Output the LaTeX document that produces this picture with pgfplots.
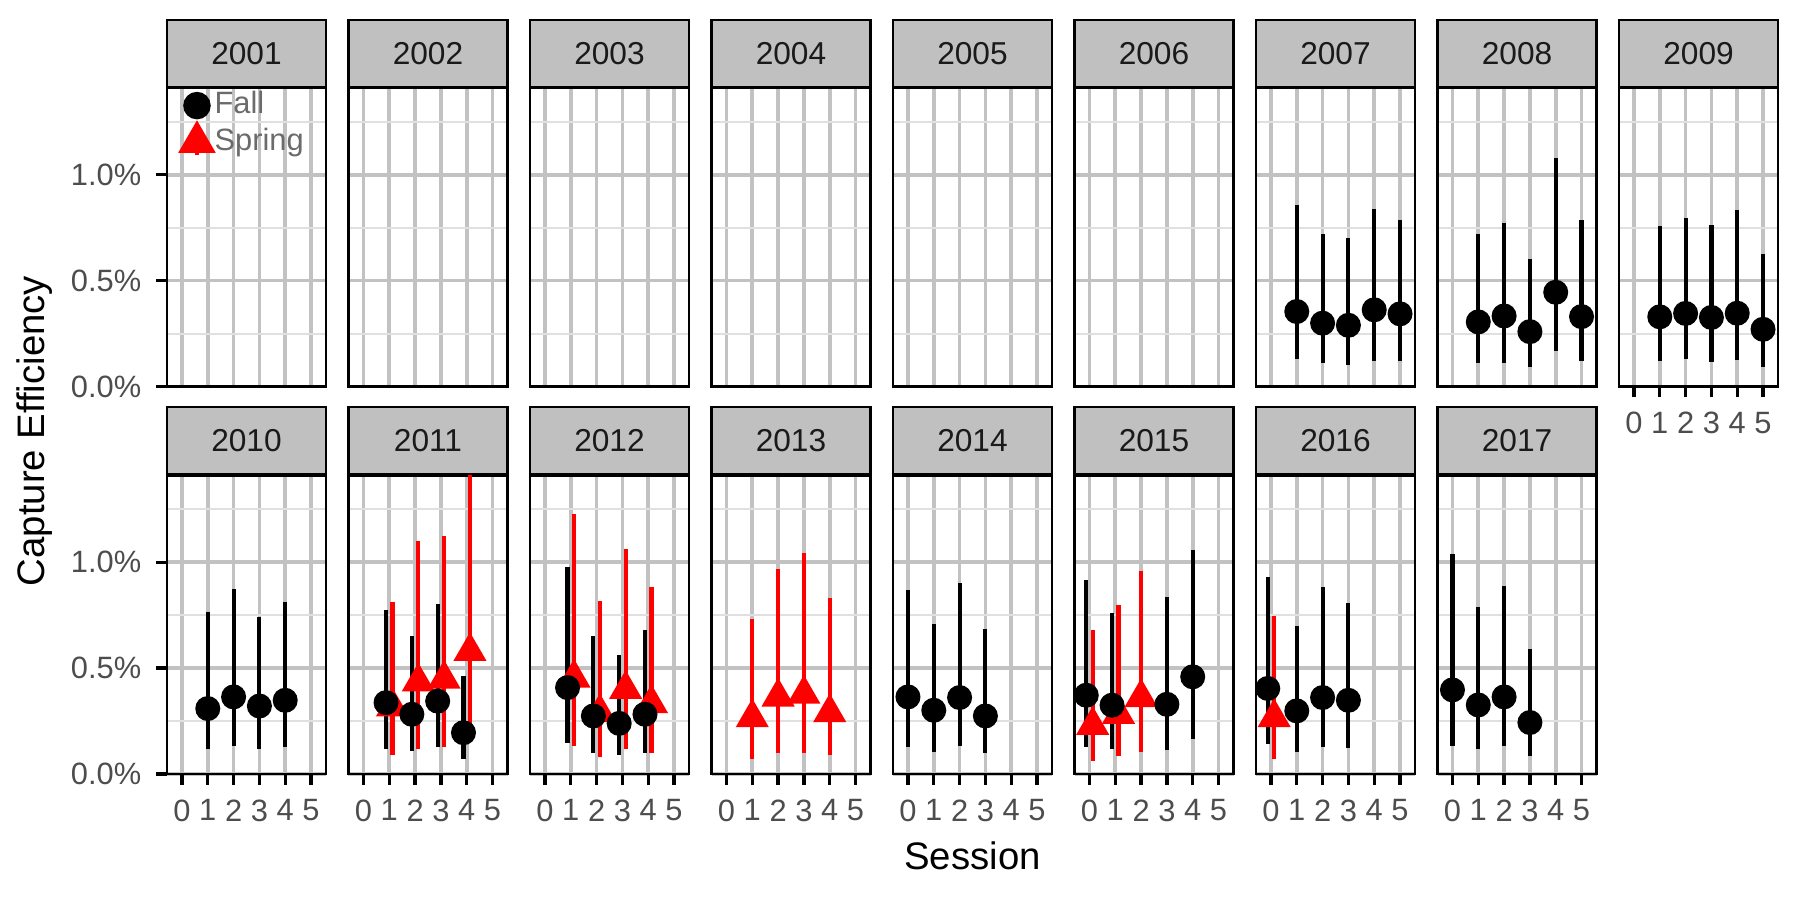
\documentclass[border=0pt]{standalone}
\usepackage{pgfplots}
\pgfplotsset{compat=1.18}
\usepackage{pgfplotstable}
\usepackage{fontspec}
\setmainfont{Liberation Sans}

\definecolor{stripfill}{HTML}{C0C0C0}
\definecolor{gridmaj}{HTML}{C2C2C2}
\definecolor{gridmin}{HTML}{E0E0E0}
\definecolor{ticklab}{HTML}{4D4D4D}
\definecolor{striptext}{HTML}{1A1A1A}
\definecolor{legtext}{HTML}{6B6B6B}
\definecolor{spring}{HTML}{FF0000}

\newcommand\ticksize{\fontsize{7.4}{8.5}\selectfont}

% capture efficiency in percent: session, estimate, lower, upper
\pgfplotstableread{
x y lo hi
1 0.354 0.130 0.856
2 0.299 0.110 0.719
3 0.289 0.100 0.699
4 0.362 0.120 0.837
5 0.343 0.120 0.784
}\fallSeven
\pgfplotstableread{
x y lo hi
1 0.305 0.110 0.718
2 0.333 0.110 0.770
3 0.259 0.090 0.603
4 0.445 0.167 1.078
5 0.330 0.120 0.786
}\fallEight
\pgfplotstableread{
x y lo hi
1 0.329 0.119 0.756
2 0.345 0.130 0.794
3 0.326 0.114 0.764
4 0.346 0.127 0.832
5 0.270 0.090 0.627
}\fallNine
\pgfplotstableread{
x y lo hi
1 0.309 0.116 0.764
2 0.364 0.132 0.874
3 0.321 0.119 0.740
4 0.348 0.127 0.811
}\fallTen
\pgfplotstableread{
x y lo hi
0.875 0.337 0.119 0.775
1.875 0.282 0.108 0.653
2.875 0.344 0.127 0.803
3.875 0.195 0.069 0.464
}\fallEleven
\pgfplotstableread{
x y lo hi
1.125 0.317 0.088 0.814
2.125 0.435 0.119 1.100
3.125 0.448 0.127 1.122
4.125 0.579 0.190 1.600
}\springEleven
\pgfplotstableread{
x y lo hi
0.875 0.408 0.148 0.977
1.875 0.274 0.097 0.653
2.875 0.239 0.088 0.563
3.875 0.282 0.100 0.680
}\fallTwelve
\pgfplotstableread{
x y lo hi
1.125 0.453 0.132 1.230
2.125 0.290 0.080 0.818
3.125 0.400 0.116 1.063
4.125 0.333 0.100 0.882
}\springTwelve
\pgfplotstableread{
x y lo hi
1 0.266 0.072 0.732
2 0.364 0.100 0.969
3 0.377 0.100 1.044
4 0.290 0.088 0.830
}\springThirteen
\pgfplotstableread{
x y lo hi
0 0.364 0.129 0.870
1 0.301 0.105 0.709
2 0.361 0.132 0.901
3 0.274 0.097 0.685
}\fallFourteen
\pgfplotstableread{
x y lo hi
-0.125 0.372 0.129 0.914
0.875 0.325 0.116 0.759
3 0.329 0.113 0.835
4 0.459 0.163 1.059
}\fallFifteen
\pgfplotstableread{
x y lo hi
0.125 0.230 0.061 0.682
1.125 0.282 0.084 0.799
2 0.361 0.103 0.961
}\springFifteen
\pgfplotstableread{
x y lo hi
-0.125 0.404 0.140 0.930
1 0.298 0.105 0.698
2 0.361 0.129 0.885
3 0.348 0.124 0.808
}\fallSixteen
\pgfplotstableread{
x y lo hi
0.125 0.266 0.072 0.748
}\springSixteen
\pgfplotstableread{
x y lo hi
0 0.397 0.132 1.040
1 0.326 0.116 0.791
2 0.364 0.132 0.887
3 0.243 0.084 0.590
}\fallSeventeen

\pgfplotsset{
  facet/.style={
    scale only axis, width=38.16pt, height=71.64pt, anchor=south west,
    xmin=-0.58, xmax=5.58, ymin=0, ymax=1.41,
    xtick={0,1,2,3,4,5}, ytick={0,0.5,1}, minor ytick={0.25,0.75,1.25},
    xticklabels={}, yticklabels={},
    grid=both,
    major grid style={line width=0.9pt, draw=gridmaj},
    minor grid style={line width=0.5pt, draw=gridmin},
    axis line style={line width=0.5pt, black},
    tick align=outside, major tick length=2.64pt, minor tick length=0pt,
    xtick style={draw=none}, ytick style={draw=none},
    ticklabel style={font=\ticksize, text=ticklab},
    title=#1, every axis title shift=0pt,
    title style={at={(0.5,1)}, anchor=south, fill=stripfill, draw=black,
      line width=0.5pt, minimum width=38.16pt, minimum height=16.08pt,
      inner sep=0pt, font=\fontsize{7.6}{9}\selectfont, text=striptext},
  },
  ylab/.style={yticklabels={0.0\%,0.5\%,1.0\%}, ytick pos=left,
    ytick style={draw=black, line width=0.8pt}},
  xlab/.style={xticklabels={0,1,2,3,4,5}, xtick pos=bottom,
    xtick style={draw=black, line width=0.8pt}},
  fallp/.style={black, mark=*, mark size=2.8pt, only marks,
    error bars/.cd, y dir=both, y explicit, error mark=none,
    error bar style={draw=black, line width=1pt}},
  springp/.style={spring, mark=triangle*, mark size=4.2pt, only marks,
    error bars/.cd, y dir=both, y explicit, error mark=none,
    error bar style={draw=spring, line width=1pt}},
  fallleg/.style={black, fill=black, mark=*, mark size=2.8pt, line width=1pt},
  springleg/.style={spring, fill=spring, mark=triangle*, mark size=4.2pt, line width=1pt},
}

\newcommand\ci[2]{\addplot[#1] table[x=x, y=y,
  y error plus expr=\thisrow{hi}-\thisrow{y},
  y error minus expr=\thisrow{y}-\thisrow{lo}] {#2};}

\begin{document}
\begin{tikzpicture}
\path (0,0) rectangle (431.76pt,215.76pt);

% top row
\begin{axis}[facet=2001, at={(40.08pt,123pt)}, ylab,
  legend style={at={(rel axis cs:0.088,1.0)}, anchor=north west,
    draw=none, fill=none, inner sep=0pt, font=\ticksize, text=legtext,
    nodes={inner sep=0.6pt}, row sep=0.5pt},
  legend cell align=left,
  legend image code/.code={
    \draw[#1] (0pt,-3.24pt) -- (0pt,3.24pt);
    \draw[#1] plot coordinates {(0pt,0pt)};}]
\addlegendimage{fallleg}
\addlegendentry{Fall}
\addlegendimage{springleg}
\addlegendentry{Spring}
\end{axis}
\begin{axis}[facet=2002, at={(83.64pt,123pt)}]
\end{axis}
\begin{axis}[facet=2003, at={(127.2pt,123pt)}]
\end{axis}
\begin{axis}[facet=2004, at={(170.76pt,123pt)}]
\end{axis}
\begin{axis}[facet=2005, at={(214.32pt,123pt)}]
\end{axis}
\begin{axis}[facet=2006, at={(257.88pt,123pt)}]
\end{axis}
\begin{axis}[facet=2007, at={(301.44pt,123pt)}]
\ci{fallp}{\fallSeven}
\end{axis}
\begin{axis}[facet=2008, at={(345pt,123pt)}]
\ci{fallp}{\fallEight}
\end{axis}
\begin{axis}[facet=2009, at={(388.56pt,123pt)}, xlab]
\ci{fallp}{\fallNine}
\end{axis}

% bottom row
\begin{axis}[facet=2010, at={(40.08pt,30pt)}, ylab, xlab]
\ci{fallp}{\fallTen}
\end{axis}
\begin{axis}[facet=2011, at={(83.64pt,30pt)}, xlab]
\ci{springp}{\springEleven}
\ci{fallp}{\fallEleven}
\end{axis}
\begin{axis}[facet=2012, at={(127.2pt,30pt)}, xlab]
\ci{springp}{\springTwelve}
\ci{fallp}{\fallTwelve}
\end{axis}
\begin{axis}[facet=2013, at={(170.76pt,30pt)}, xlab]
\ci{springp}{\springThirteen}
\end{axis}
\begin{axis}[facet=2014, at={(214.32pt,30pt)}, xlab]
\ci{fallp}{\fallFourteen}
\end{axis}
\begin{axis}[facet=2015, at={(257.88pt,30pt)}, xlab]
\ci{springp}{\springFifteen}
\ci{fallp}{\fallFifteen}
\end{axis}
\begin{axis}[facet=2016, at={(301.44pt,30pt)}, xlab]
\ci{springp}{\springSixteen}
\ci{fallp}{\fallSixteen}
\end{axis}
\begin{axis}[facet=2017, at={(345pt,30pt)}, xlab]
\ci{fallp}{\fallSeventeen}
\end{axis}

\node[rotate=90, font=\fontsize{9.2}{11}\selectfont] at (8.4pt,112.3pt) {Capture Efficiency};
\node[font=\fontsize{9.2}{11}\selectfont] at (233.4pt,10.3pt) {Session};
\end{tikzpicture}
\end{document}
